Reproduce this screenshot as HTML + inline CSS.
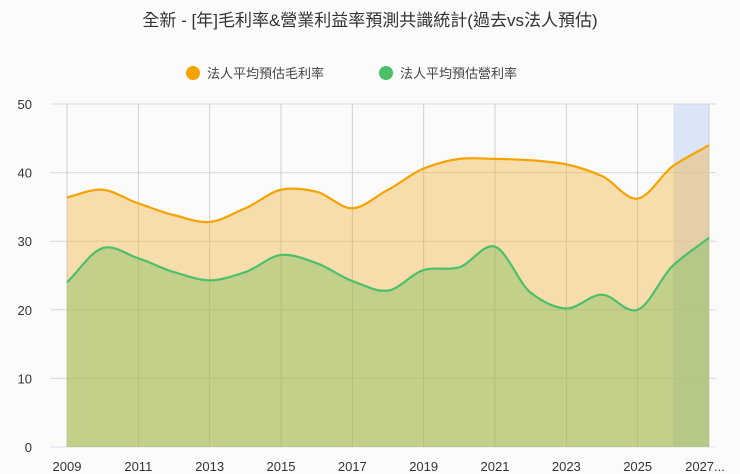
<!DOCTYPE html>
<html><head><meta charset="utf-8"><style>
body{margin:0;background:#fff;font-family:"Liberation Sans","Noto Sans CJK TC",sans-serif;}
svg{display:block}
</style></head><body>
<svg id="c" width="740" height="474">
<rect width="740" height="474" fill="#fbfbfc"/>
<text x="370" y="26" text-anchor="middle" font-size="17" fill="#333">全新 - [年]毛利率&amp;營業利益率預測共識統計(過去vs法人預估)</text>
<g>
<circle cx="193" cy="73" r="7" fill="#f5a300"/>
<text x="207" y="78" font-size="13" fill="#444">法人平均預估毛利率</text>
<circle cx="386" cy="73" r="7" fill="#4cbf6b"/>
<text x="400" y="78" font-size="13" fill="#444">法人平均預估營利率</text>
</g>
<g id="plot"></g>
</svg>
<script>
const years=[2009,2010,2011,2012,2013,2014,2015,2016,2017,2018,2019,2020,2021,2022,2023,2024,2025,2026,2027];
const grossMargin=[36.4,37.5,35.5,33.8,32.8,34.8,37.5,37.2,34.8,37.5,40.6,42,42,41.8,41.2,39.5,36.2,41,44];
const opMargin=[24,29,27.5,25.5,24.3,25.5,28,26.8,24.2,22.8,25.8,26.2,29.2,22.5,20.2,22.2,20,26.5,30.5];
const yTicks=[0,10,20,30,40,50];
const xLabels=["2009","2011","2013","2015","2017","2019","2021","2023","2025","2027..."];
const NS="http://www.w3.org/2000/svg";
const g=document.getElementById('plot');
const x0=67,x1=709,yb=447,yt=104;
const xs=i=>x0+(x1-x0)*i/(years.length-1);
const ys=v=>yb-(yb-yt)*v/50;
function mk(t,a,p){const e=document.createElementNS(NS,t);for(const k in a)e.setAttribute(k,a[k]);(p||g).appendChild(e);return e;}
let band=mk('rect',{x:xs(17),y:yt,width:xs(18)-xs(17),height:yb-yt,fill:'#dbe5f8'});


yTicks.forEach(v=>{
 let l=mk('line',{x1:50,x2:716,y1:ys(v),y2:ys(v),stroke:v==0?'#dde0ee':'#d8d8d8','stroke-width':1});
 
 
 let t=mk('text',{x:32,y:ys(v)+5,'text-anchor':'end','font-size':13,fill:'#333'});t.textContent=v;
 
 
});
xLabels.forEach((s,k)=>{
 const i=k*2;
 let l=mk('line',{x1:xs(i),x2:xs(i),y1:yt,y2:yb,stroke:'#cfcfcf','stroke-width':1});
 
 
 let t=mk('text',{x:Math.min(xs(i),705),y:471,'text-anchor':'middle','font-size':13,fill:'#333'});t.textContent=s;
 
 
});
function smoothPath(vals){
 const n=vals.length,P=vals.map((v,i)=>[xs(i),ys(v)]);
 const d=[],m=[];
 for(let i=0;i<n-1;i++)d.push((P[i+1][1]-P[i][1])/(P[i+1][0]-P[i][0]));
 for(let i=0;i<n;i++){
  if(i==0)m.push(d[0]);else if(i==n-1)m.push(d[n-2]);
  else m.push((d[i-1]+d[i])/2*0.9);
 }
 let s='M'+P[0][0]+','+P[0][1];
 for(let i=0;i<n-1;i++){const h=(P[i+1][0]-P[i][0])/3;
  s+=` C${P[i][0]+h},${P[i][1]+m[i]*h} ${P[i+1][0]-h},${P[i+1][1]-m[i+1]*h} ${P[i+1][0]},${P[i+1][1]}`;}
 return s;
}
const gp=smoothPath(grossMargin),op=smoothPath(opMargin);
let ga=mk('path',{d:gp+` L${xs(18)},${yb} L${xs(0)},${yb} Z`,fill:'rgba(245,170,30,0.36)'});


let oa=mk('path',{d:op+` L${xs(18)},${yb} L${xs(0)},${yb} Z`,fill:'rgba(120,190,90,0.42)'});


let gl=mk('path',{d:gp,fill:'none',stroke:'#f5a300','stroke-width':2.2});


let ol=mk('path',{d:op,fill:'none',stroke:'#4cbf6b','stroke-width':2.2});


</script>
</body></html>
